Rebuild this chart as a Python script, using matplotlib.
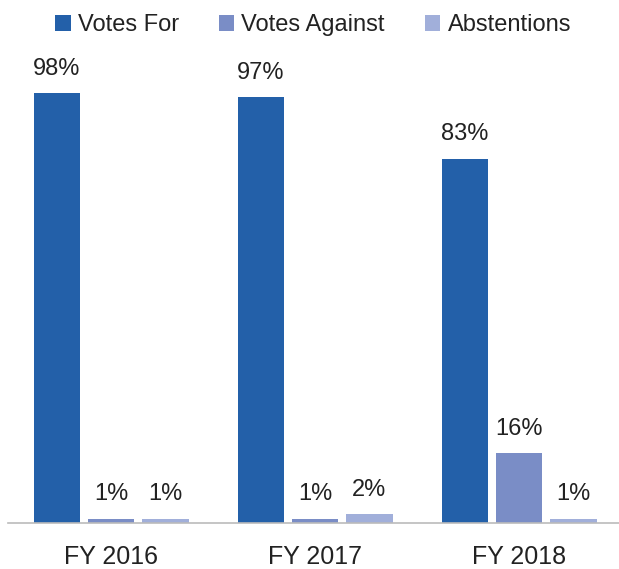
import matplotlib
matplotlib.use("Agg")
import matplotlib.pyplot as plt
import numpy as np

plt.rcParams['font.family'] = ['Liberation Sans', 'DejaVu Sans']

years = ["FY 2016", "FY 2017", "FY 2018"]
series = ["Votes For", "Votes Against", "Abstentions"]
votes_for = [98, 97, 83]
votes_against = [1, 1, 16]
abstentions = [1, 2, 1]
colors = ["#2360A9", "#7A8DC6", "#A1AFDA"]

fig = plt.figure(figsize=(6.19, 5.69), dpi=100)
ax = fig.add_axes([8 / 619, 1 - 523 / 569, 1 - 8 / 619, 439 / 569])

x = np.arange(len(years))
width = 0.23
offset = 0.265
for i, (vals, name) in enumerate(zip([votes_for, votes_against, abstentions], series)):
    bars = ax.bar(x + (i - 1) * offset, vals, width, color=colors[i], label=name)
    for b, v in zip(bars, vals):
        ax.text(b.get_x() + b.get_width() / 2, b.get_height() + 3.0, f"{v}%",
                ha="center", va="bottom", fontsize=17, color="#222222")

ax.set_xlim(-0.505, 2.49)
ax.set_ylim(0, 100)
ax.set_xticks(x)
ax.set_xticklabels(years, fontsize=18, color="#222222")
ax.tick_params(axis="x", length=0, pad=16)
ax.set_yticks([])
for s in ["top", "right", "left"]:
    ax.spines[s].set_visible(False)
ax.spines["bottom"].set_color("#BBBBBB")
ax.spines["bottom"].set_linewidth(1.2)

fig.legend(loc="upper center", bbox_to_anchor=(0.506, 1.012), ncol=3, frameon=False,
           fontsize=17, handlelength=0.65, handleheight=0.65, handletextpad=0.3,
           columnspacing=1.7, labelcolor="#222222")

fig.savefig("out.png", dpi=100)
